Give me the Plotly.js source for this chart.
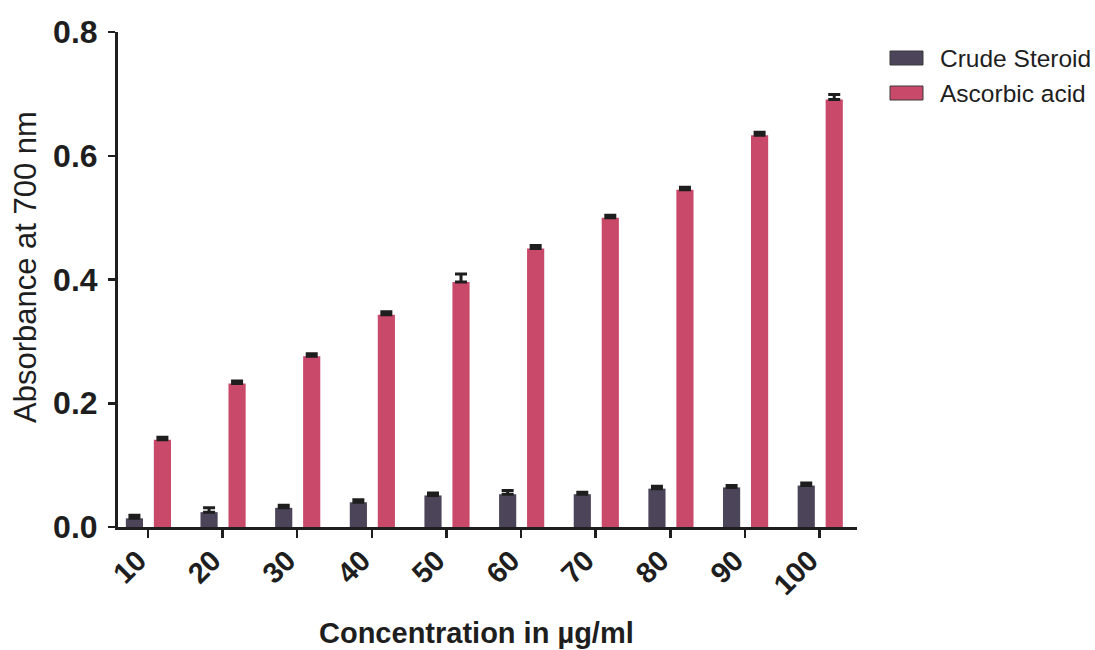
<!DOCTYPE html>
<html>
<head>
<meta charset="utf-8">
<script src="https://cdn.plot.ly/plotly-3.0.1.min.js"></script>
<style>
  html, body { margin: 0; padding: 0; background: #ffffff; }
  #chart { width: 1095px; height: 650px; }
</style>
</head>
<body>
<div id="chart"></div>
<script>
// Concentrations tested (µg/ml)
const concentrations = ['10', '20', '30', '40', '50', '60', '70', '80', '90', '100'];

// Mean absorbance at 700 nm and upper error (SEM)
const steroidValues = [0.014, 0.024, 0.031, 0.040, 0.051, 0.053, 0.053, 0.062, 0.064, 0.067];
const steroidErrors = [0.005, 0.007, 0.004, 0.004, 0.004, 0.006, 0.003, 0.004, 0.003, 0.004];

const ascorbicValues = [0.141, 0.232, 0.276, 0.343, 0.396, 0.450, 0.500, 0.545, 0.633, 0.691];
const ascorbicErrors = [0.004, 0.004, 0.004, 0.005, 0.013, 0.005, 0.004, 0.004, 0.005, 0.008];

const seriesNames = ['Crude Steroid', 'Ascorbic acid'];
const yTicks = [0, 0.2, 0.4, 0.6, 0.8];
const xTitle = 'Concentration in µg/ml';
const yTitle = 'Absorbance at 700 nm';

const colSteroid = '#4c4559';
const colAscorbic = '#c9496a';
const ink = '#1e1e1e';
const FONT = 'Liberation Sans, Arial, sans-serif';
const zeros = concentrations.map(() => 0);

const errStyle = (vals) => ({
  type: 'data', symmetric: false, array: vals, arrayminus: zeros,
  color: ink, thickness: 3, width: 6
});

const traces = [
  {
    type: 'bar', name: seriesNames[0], x: concentrations, y: steroidValues,
    offset: -0.295, width: 0.23,
    marker: { color: colSteroid, line: { width: 0 } },
    error_y: errStyle(steroidErrors), showlegend: false
  },
  {
    type: 'bar', name: seriesNames[1], x: concentrations, y: ascorbicValues,
    offset: 0.08, width: 0.23,
    marker: { color: colAscorbic, line: { width: 0 } },
    error_y: errStyle(ascorbicErrors), showlegend: false
  }
];

// Plot area in pixels, used to place the legend and axis titles
const M = { l: 118, r: 238, t: 32, b: 123 };
const W = 1095, H = 650;
const pw = W - M.l - M.r, ph = H - M.t - M.b;
const px = (x) => (x - M.l) / pw;
const py = (y) => (H - M.b - y) / ph;

const legendRows = [
  { name: seriesNames[0], color: colSteroid, cy: 58 },
  { name: seriesNames[1], color: colAscorbic, cy: 93 }
];
const shapes = legendRows.map(r => ({
  type: 'rect', xref: 'paper', yref: 'paper',
  x0: px(890), x1: px(923), y0: py(r.cy + 7), y1: py(r.cy - 7),
  fillcolor: r.color, line: { color: '#3a3a3a', width: 1 }
}));
const annotations = legendRows.map(r => ({
  xref: 'paper', yref: 'paper', x: px(938), y: py(r.cy),
  xanchor: 'left', yanchor: 'middle', showarrow: false,
  text: r.name, font: { family: FONT, size: 24.5, color: ink }
}));

// Axis titles
annotations.push({
  xref: 'paper', yref: 'paper', x: px(476), y: py(633),
  xanchor: 'center', yanchor: 'middle', showarrow: false,
  text: xTitle, font: { family: FONT, size: 29, color: ink, weight: 'bold' }
});
annotations.push({
  xref: 'paper', yref: 'paper', x: px(25), y: py(267),
  xanchor: 'center', yanchor: 'middle', showarrow: false, textangle: -90,
  text: yTitle, font: { family: FONT, size: 31, color: ink }
});

const layout = {
  width: W, height: H,
  margin: M,
  paper_bgcolor: '#ffffff', plot_bgcolor: '#ffffff',
  barmode: 'overlay',
  showlegend: false,
  font: { family: FONT, color: ink },
  xaxis: {
    type: 'category', range: [-0.4, 9.5],
    showline: true, linecolor: ink, linewidth: 3,
    showgrid: false, zeroline: false,
    ticks: 'outside', ticklen: 8, tickwidth: 2.5, tickcolor: ink,
    tickangle: -45,
    ticklabelstandoff: -6,
    ticklabelshift: -10,
    tickfont: { size: 29, color: ink, family: FONT, weight: 'bold' },
    fixedrange: true
  },
  yaxis: {
    range: [0, 0.8], tickvals: yTicks, ticktext: yTicks.map(v => v.toFixed(1)),
    showline: true, linecolor: ink, linewidth: 3,
    showgrid: false, zeroline: false,
    ticks: 'outside', ticklen: 7, tickwidth: 2.5, tickcolor: ink,
    ticklabelstandoff: 4,
    tickfont: { size: 32, color: ink, family: FONT, weight: 'bold' },
    fixedrange: true
  },
  shapes: shapes,
  annotations: annotations
};

Plotly.newPlot('chart', traces, layout, { displayModeBar: false, staticPlot: true });
</script>
</body>
</html>
